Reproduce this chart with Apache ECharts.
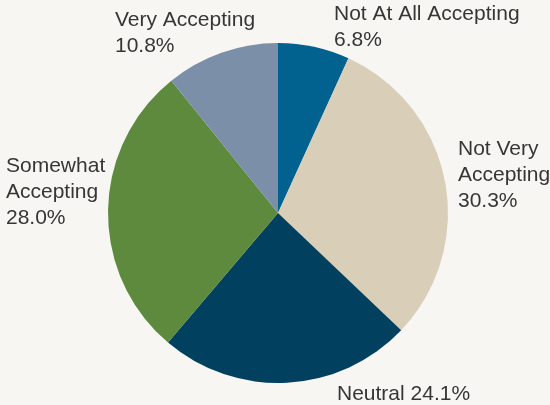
<!DOCTYPE html>
<html>
<head>
<meta charset="utf-8">
<script src="https://cdn.jsdelivr.net/npm/echarts@6/dist/echarts.min.js"></script>
<style>
html,body{margin:0;padding:0;background:#f7f6f2;}
#chart{width:550px;height:405px;}
</style>
</head>
<body>
<div id="chart"></div>
<script>
const categories = ['Not At All Accepting', 'Not Very\nAccepting', 'Neutral', 'Somewhat\nAccepting', 'Very Accepting'];
const values = [6.8, 30.3, 24.1, 28.0, 10.8];
const colors = ['#02628f', '#d9cfb9', '#02405f', '#5d8a3d', '#7b8fa8'];
// label placement (top-left of label block) and separator between name and value
const labelPos = [[334, 1, '\n'], [458, 136, '\n'], [337, 381, ' '], [6, 153, '\n'], [115, 7, '\n']];

const chart = echarts.init(document.getElementById('chart'));
chart.setOption({
  backgroundColor: '#f7f6f2',
  animation: false,
  series: [{
    type: 'pie',
    center: [278, 213],
    radius: 170,
    startAngle: 90,
    clockwise: true,
    data: categories.map((c, i) => ({name: c, value: values[i], itemStyle: {color: colors[i]}})),
    label: {
      show: true,
      position: 'outside',
      alignTo: 'none',
      overflow: 'none',
      color: '#363636',
      fontFamily: 'Liberation Sans',
      fontSize: 21,
      lineHeight: 26,
      formatter: p => p.name + labelPos[p.dataIndex][2] + p.value.toFixed(1) + '%'
    },
    labelLine: {show: false},
    labelLayout: p => ({
      x: labelPos[p.dataIndex][0],
      y: labelPos[p.dataIndex][1],
      align: 'left',
      verticalAlign: 'top',
      moveOverlap: null
    }),
    itemStyle: {borderWidth: 0}
  }]
});
</script>
</body>
</html>
